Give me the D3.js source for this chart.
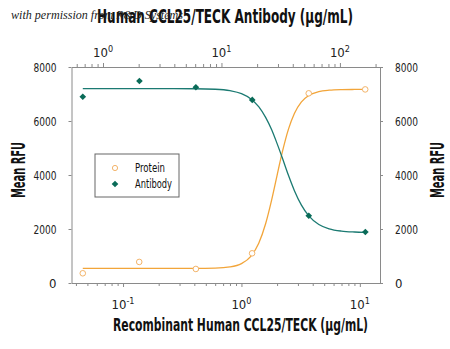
<!DOCTYPE html>
<html><head><meta charset="utf-8">
<script src="https://cdn.jsdelivr.net/npm/d3@7"></script>
<style>
body{margin:0;background:#fff;}
text{font-family:"DejaVu Sans Condensed","DejaVu Sans",sans-serif;font-stretch:condensed;}
</style></head>
<body><svg id="c" width="450" height="349"></svg>
<script>
// ---- data ----
const proteinDose = [0.0457, 0.137, 0.412, 1.23, 3.7, 11.1];          // µg/mL (bottom axis)
const proteinRFU  = [360, 780, 520, 1100, 7025, 7170];
const antibodyDose = [0.675, 2.03, 6.08, 18.2, 54.6, 164];            // µg/mL (top axis)
const antibodyRFU  = [6900, 7480, 7250, 6780, 2490, 1890];
// fitted curves
const proteinCurveX = [0.0457,0.1,0.2,0.4,0.6,0.8,1.0,1.2,1.4,1.6,1.8,2.0,2.2,2.5,2.8,3.2,3.7,4.5,5.5,7,9,11.1];
const proteinCurveY = [540,540,540,541,552,595,717,987,1472,2193,3077,3988,4798,5708,6280,6700,6943,7088,7141,7162,7168,7170];
const antibodyCurveX = [0.675,1.476,2.95,5.9,8.86,11.8,14.76,17.7,20.7,23.6,26.6,29.5,32.5,36.9,41.3,47.2,54.6,66.4,81.2,103,133,164];
const antibodyCurveY = [7200,7200,7200,7195,7176,7122,7011,6817,6526,6136,5668,5162,4657,3972,3421,2896,2488,2169,2007,1922,1889,1878];
const yTicks = [0, 2000, 4000, 6000, 8000];
const bottomMajor = [0.1, 1, 10];
const topMajor = [1, 10, 100];
const bottomLabels = ["-1", "0", "1"];
const topLabels = ["0", "1", "2"];
const bottomDomain = [0.0367, 14.8];
const topDomain = [0.542, 218];

const svg = d3.select("#c");
const L = 71.5, R = 380, T = 67, B = 283;
const x = d3.scaleLog().domain(bottomDomain).range([L, R]);
const xt = d3.scaleLog().domain(topDomain).range([L, R]);
const y = d3.scaleLinear().domain([0, 8000]).range([B, T]);

const gray = "#8a8a8a";
const teal = "#1b7a72", tealDark = "#0a6b58", orange = "#f2a53a", orangeLight = "#f3b46a";

function minorTicks(dom){
  const out=[];
  for(let e=-3;e<4;e++) for(let m=1;m<10;m++){const v=m*Math.pow(10,e); if(v>=dom[0]&&v<=dom[1]) out.push(v);}
  return out;
}
const isMajor = v => Math.abs(Math.log10(v)-Math.round(Math.log10(v)))<1e-9;
const fit = (sel, w) => sel.attr("textLength", w).attr("lengthAdjust", "spacingAndGlyphs");

// bottom axis
const gb = svg.append("g").attr("transform",`translate(0,${B})`)
  .call(d3.axisBottom(x).tickValues(minorTicks(bottomDomain)).tickFormat("").tickSizeOuter(0));
gb.selectAll(".tick line").attr("y2", d=>isMajor(d)?4:3);
// top axis
const gt = svg.append("g").attr("transform",`translate(0,${T})`)
  .call(d3.axisTop(xt).tickValues(minorTicks(topDomain)).tickFormat("").tickSizeOuter(0));
gt.selectAll(".tick line").attr("y2", d=>isMajor(d)?-4:-3);
// left / right axes
const gl = svg.append("g").attr("transform",`translate(${L},0)`)
  .call(d3.axisLeft(y).tickValues(yTicks).tickFormat(d3.format("d")).tickSize(3).tickSizeOuter(0).tickPadding(10));
const gr = svg.append("g").attr("transform",`translate(${R},0)`)
  .call(d3.axisRight(y).tickValues(yTicks).tickFormat(d3.format("d")).tickSize(3).tickSizeOuter(0).tickPadding(10));
svg.selectAll(".domain, .tick line").attr("stroke", gray);
[gl,gr].forEach(g=>{
  g.attr("font-family",null).selectAll("text").attr("font-size",13).attr("fill","#222")
   .each(function(d){ if(d>0) fit(d3.select(this), 23); });
});
gl.selectAll("text").attr("dx", -2);
gr.selectAll("text").attr("dx", 2);

// power-of-ten labels
function powLabels(vals, labs, scale, yy){
  vals.forEach((v,i)=>{
    const t = svg.append("text").attr("x", scale(v)).attr("y", yy).attr("text-anchor","middle")
      .attr("font-size",13).attr("fill","#222");
    t.append("tspan").text("10");
    t.append("tspan").attr("dy",-5).attr("font-size",9).text(labs[i]);
  });
}
powLabels(bottomMajor, bottomLabels, x, 309);
powLabels(topMajor, topLabels, xt, 57);

// curves
const line = (sx) => d3.line().x(d=>sx(d[0])).y(d=>y(d[1])).curve(d3.curveMonotoneX);
svg.append("path").datum(proteinCurveX.map((v,i)=>[v,proteinCurveY[i]]))
  .attr("d", line(x)).attr("fill","none").attr("stroke",orange).attr("stroke-width",1.3);
svg.append("path").datum(antibodyCurveX.map((v,i)=>[v,antibodyCurveY[i]]))
  .attr("d", line(xt)).attr("fill","none").attr("stroke",teal).attr("stroke-width",1.3);

// points
svg.selectAll(".pp").data(proteinDose).enter().append("circle")
  .attr("cx",d=>x(d)).attr("cy",(d,i)=>y(proteinRFU[i])).attr("r",2.8)
  .attr("fill","#fff").attr("stroke",orangeLight).attr("stroke-width",1);
const diamond = d3.symbol().type(d3.symbolSquare).size(22);
svg.selectAll(".ap").data(antibodyDose).enter().append("path")
  .attr("d", diamond).attr("transform",(d,i)=>`translate(${xt(d)},${y(antibodyRFU[i])}) rotate(45)`)
  .attr("fill",tealDark);

// legend
svg.append("rect").attr("x",95).attr("y",154).attr("width",84).attr("height",43)
  .attr("fill","#fff").attr("stroke","#666").attr("stroke-width",1);
svg.append("circle").attr("cx",115).attr("cy",168).attr("r",2.6).attr("fill","#fff").attr("stroke",orangeLight);
svg.append("path").attr("d",diamond).attr("transform","translate(115,184) rotate(45)").attr("fill",tealDark);
fit(svg.append("text").attr("x",135).attr("y",172).attr("font-size",12).attr("fill","#111").text("Protein"), 30);
fit(svg.append("text").attr("x",135).attr("y",188).attr("font-size",12).attr("fill","#111").text("Antibody"), 37);

// titles
fit(svg.append("text").attr("x",113).attr("y",331)
  .attr("font-size",18).attr("font-weight","bold").attr("fill","#111")
  .text("Recombinant Human CCL25/TECK (µg/mL)"), 255);
fit(svg.append("text").attr("x",97).attr("y",23)
  .attr("font-size",19).attr("font-weight","bold").attr("fill","#111")
  .text("Human CCL25/TECK Antibody (µg/mL)"), 256);
fit(svg.append("text").attr("transform","translate(25,198) rotate(-90)")
  .attr("font-size",19).attr("font-weight","bold").attr("fill","#111").text("Mean RFU"), 56);
fit(svg.append("text").attr("transform","translate(444,198) rotate(-90)")
  .attr("font-size",19).attr("font-weight","bold").attr("fill","#111").text("Mean RFU"), 56);
// watermark
fit(svg.append("text").attr("x",11).attr("y",19).attr("font-size",12).attr("font-style","italic")
  .attr("fill","#222").style("font-family","'Liberation Serif',serif").style("font-stretch","normal")
  .text("with permission from R&D Systems"), 172);
</script></body></html>
